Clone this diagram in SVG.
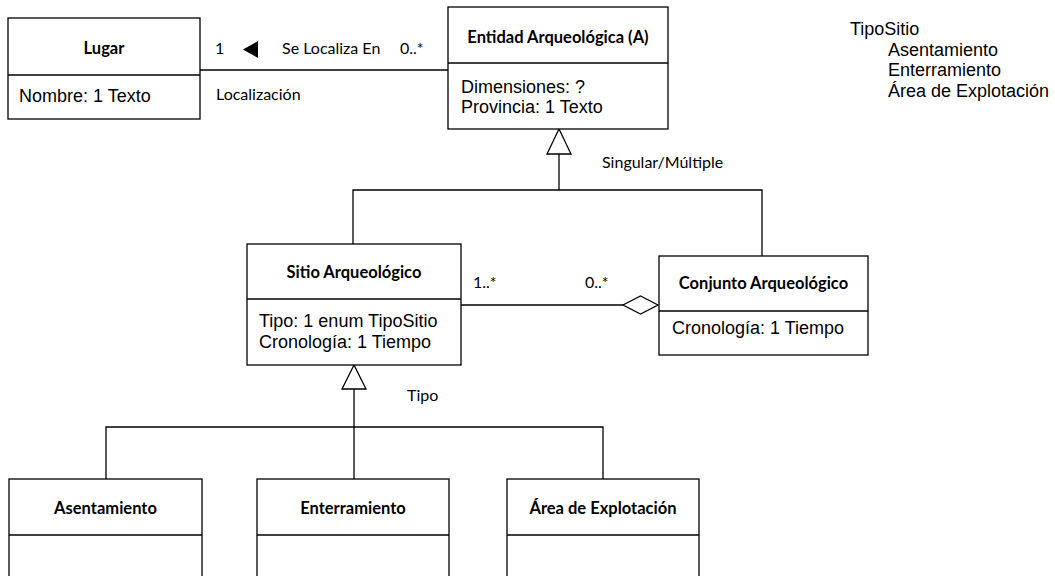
<svg xmlns="http://www.w3.org/2000/svg" width="1055" height="576" viewBox="0 0 1055 576">
<style>
.box{fill:#fff;stroke:#000;stroke-width:1.3}
.ln{fill:none;stroke:#000;stroke-width:1.3}
.t{font-family:Lato,"Liberation Sans",sans-serif;font-weight:bold;font-size:16.5px;text-anchor:middle;fill:#000}
.a{font-family:"Liberation Sans",Arial,sans-serif;font-size:18px;fill:#000}
.l{font-family:Lato,"Liberation Sans",sans-serif;font-size:16px;fill:#000}
</style>
<rect width="1055" height="576" fill="#fff"/>
<g id="connectors">
<line class="ln" x1="200" y1="70" x2="448" y2="70"/>
<polygon points="243,49.5 258,41 258,58" fill="#000"/>
<polygon class="ln" points="559,129 547,154 571,154" fill="#fff"/>
<polyline class="ln" points="559,154 559,190"/>
<polyline class="ln" points="353,244 353,190 762,190 762,256"/>
<line class="ln" x1="461" y1="305" x2="623" y2="305"/>
<polygon class="ln" points="658,305 640.5,296 623,305 640.5,314" fill="#fff"/>
<polygon class="ln" points="354,365 342,389 366,389" fill="#fff"/>
<line class="ln" x1="354" y1="389" x2="354" y2="479"/>
<polyline class="ln" points="106,479 106,427 603,427 603,479"/>
<text class="l" x="215" y="54">1</text>
<text class="l" x="282" y="54">Se Localiza En</text>
<text class="l" x="400" y="54">0..*</text>
<text class="l" x="216" y="100">Localización</text>
<text class="l" x="602" y="168">Singular/Múltiple</text>
<text class="l" x="473" y="288">1..*</text>
<text class="l" x="585" y="288">0..*</text>
<text class="l" x="407" y="401">Tipo</text>
</g>
<g id="lugar">
<rect class="box" x="8" y="18" width="192" height="101"/>
<line class="ln" x1="8" y1="75" x2="200" y2="75"/>
<text class="t" x="104" y="54">Lugar</text>
<text class="a" x="19" y="102">Nombre: 1 Texto</text>
</g>
<g id="entidad">
<rect class="box" x="448" y="7" width="220" height="122"/>
<line class="ln" x1="448" y1="63" x2="668" y2="63"/>
<text class="t" x="558" y="43">Entidad Arqueológica (A)</text>
<text class="a" x="461" y="93">Dimensiones: ?</text>
<text class="a" x="461" y="113">Provincia: 1 Texto</text>
</g>
<g id="sitio">
<rect class="box" x="247" y="244" width="214" height="121"/>
<line class="ln" x1="247" y1="299" x2="461" y2="299"/>
<text class="t" x="354" y="278">Sitio Arqueológico</text>
<text class="a" x="259" y="327">Tipo: 1 enum TipoSitio</text>
<text class="a" x="259" y="348">Cronología: 1 Tiempo</text>
</g>
<g id="conjunto">
<rect class="box" x="659" y="256" width="209" height="99"/>
<line class="ln" x1="659" y1="311" x2="868" y2="311"/>
<text class="t" x="763.5" y="289">Conjunto Arqueológico</text>
<text class="a" x="672" y="334">Cronología: 1 Tiempo</text>
</g>
<g id="asentamiento">
<rect class="box" x="9" y="479" width="193" height="120"/>
<line class="ln" x1="9" y1="535" x2="202" y2="535"/>
<text class="t" x="105.5" y="514">Asentamiento</text>
</g>
<g id="enterramiento">
<rect class="box" x="257" y="479" width="192" height="120"/>
<line class="ln" x1="257" y1="535" x2="449" y2="535"/>
<text class="t" x="353" y="514">Enterramiento</text>
</g>
<g id="area">
<rect class="box" x="507" y="479" width="192" height="120"/>
<line class="ln" x1="507" y1="535" x2="699" y2="535"/>
<text class="t" x="603" y="514">Área de Explotación</text>
</g>
<g id="tipositio">
<text class="a" x="850" y="35">TipoSitio</text>
<text class="a" x="888" y="56">Asentamiento</text>
<text class="a" x="888" y="76">Enterramiento</text>
<text class="a" x="888" y="97">Área de Explotación</text>
</g>
</svg>
